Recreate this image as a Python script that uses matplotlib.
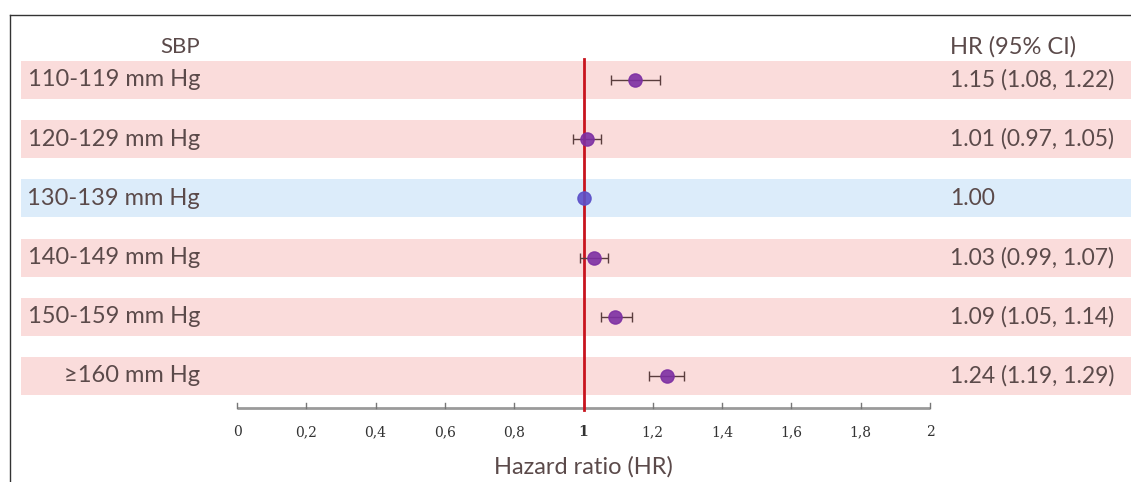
import numpy as np
import matplotlib.pyplot as plt
from matplotlib.lines import Line2D

# data
groups = ["110-119 mm Hg", "120-129 mm Hg", "130-139 mm Hg",
          "140-149 mm Hg", "150-159 mm Hg", "\u2265160 mm Hg"]
hr = [1.15, 1.01, 1.00, 1.03, 1.09, 1.24]
lo = [1.08, 0.97, 1.00, 0.99, 1.05, 1.19]
hi = [1.22, 1.05, 1.00, 1.07, 1.14, 1.29]
hr_text = ["1.15 (1.08, 1.22)", "1.01 (0.97, 1.05)", "1.00",
           "1.03 (0.99, 1.07)", "1.09 (1.05, 1.14)", "1.24 (1.19, 1.29)"]
ref_row = 2
xticks = [0, 0.2, 0.4, 0.6, 0.8, 1, 1.2, 1.4, 1.6, 1.8, 2]
xtick_labels = ["0", "0,2", "0,4", "0,6", "0,8", "1", "1,2", "1,4", "1,6", "1,8", "2"]

plt.rcParams['font.family'] = ['Lato', 'DejaVu Sans']
txt_col = "#5b4a4a"

W, H = 1131, 482
fig = plt.figure(figsize=(W / 100, H / 100), dpi=100)
ax = fig.add_axes([0, 0, 1, 1])
ax.axis("off")

# pixel -> data mapping (x: 0 at 237px, 2 at 930px ; rows 59.2px apart, first at 80px)
px_per_x = (930 - 237) / 2
x0 = -237 / px_per_x
x1 = (W - 237) / px_per_x
row_px = 59.2
y_top = -80 / row_px
y_bot = (H - 80) / row_px
ax.set_xlim(x0, x1)
ax.set_ylim(y_bot, y_top)

y = np.arange(len(groups))
band_h = 38 / row_px / 2
for i in y:
    col = "#dcecfa" if i == ref_row else "#fadcdb"
    ax.axhspan(i - band_h, i + band_h, xmin=21 / W, xmax=1, color=col, lw=0, zorder=0)

# x axis
axis_y = (408 - 80) / row_px
ax.plot([0, 2], [axis_y, axis_y], color="#9a9a9a", lw=2, zorder=2, solid_capstyle="butt")
for t, lab in zip(xticks, xtick_labels):
    ax.plot([t, t], [axis_y, axis_y - 5 / row_px], color="#777777", lw=1, zorder=2)
    ax.text(t, axis_y + 24 / row_px, lab, ha="center", va="center",
            fontsize=10, family="DejaVu Serif", color="#333333",
            fontweight="bold" if t == 1 else "normal")
ax.text(1, axis_y + 59 / row_px, "Hazard ratio (HR)", ha="center", va="center",
        fontsize=17, color=txt_col)

# reference line
ax.plot([1, 1], [-0.35, axis_y + 2 / row_px], color="#c8141e", lw=2, zorder=3)

# CIs and points
for i in y:
    if i != ref_row:
        ax.errorbar(hr[i], i, xerr=[[hr[i] - lo[i]], [hi[i] - hr[i]]], fmt="none",
                    ecolor="#5a3d3d", elinewidth=1, capsize=3.5, capthick=1, zorder=4)
    mcol = "#5b4fc8" if i == ref_row else "#7d2fa3"
    ax.plot(hr[i], i, "o", ms=9.5, color=mcol, mec=mcol, alpha=0.9, zorder=5)

# labels
lab_x = (200 - 237) / px_per_x
hr_x = (950 - 237) / px_per_x
for i in y:
    ax.text(lab_x, i, groups[i], ha="right", va="center", fontsize=17, color=txt_col)
    ax.text(hr_x, i, hr_text[i], ha="left", va="center", fontsize=16.5, color=txt_col)
head_y = (47 - 80) / row_px
ax.text(lab_x, head_y, "SBP", ha="right", va="center", fontsize=16, color=txt_col)
ax.text(hr_x, head_y, "HR (95% CI)", ha="left", va="center", fontsize=17, color=txt_col)

# frame lines
fig.add_artist(Line2D([10 / W, 10 / W], [0, 1 - 15 / H], color="#333333", lw=1))
fig.add_artist(Line2D([10 / W, 1], [1 - 15 / H, 1 - 15 / H], color="#333333", lw=1))

fig.savefig("out.png", dpi=100)
